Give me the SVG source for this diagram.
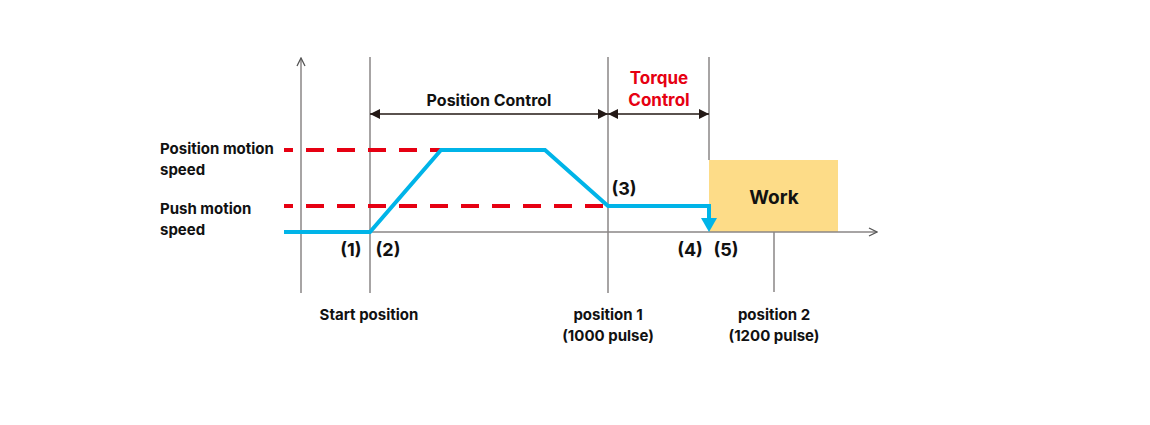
<svg xmlns="http://www.w3.org/2000/svg" width="1150" height="425" viewBox="0 0 1150 425">
<defs>
<style>
.ax{stroke:#8a8686;stroke-width:1.5;fill:none}
.red{stroke:#e60012;stroke-width:4;fill:none;stroke-dasharray:18 13;stroke-dashoffset:9}
.blue{stroke:#00b4e8;stroke-width:4;fill:none;stroke-linejoin:miter}
.dim{stroke:#231815;stroke-width:1.3;fill:none}
.t{font-family:Inter,"Noto Sans",sans-serif;font-weight:700;fill:#111;font-size:15px}
.n{font-size:18px}
.pc{font-size:16px}
.wk{font-size:19px}
.tr{fill:#e60012;font-size:17px}
</style>
<marker id="ah" viewBox="0 0 10 10" refX="10" refY="5" markerWidth="10" markerHeight="10" markerUnits="userSpaceOnUse" orient="auto-start-reverse">
<path d="M0,0 L10,5 L0,10 Z" fill="#231815"/>
</marker>
<marker id="open" viewBox="0 0 10 10" refX="9" refY="5" markerWidth="10" markerHeight="10" markerUnits="userSpaceOnUse" orient="auto">
<path d="M1,1 L9,5 L1,9" fill="none" stroke="#555" stroke-width="1.3"/>
</marker>
</defs>
<rect width="1150" height="425" fill="#fff"/>
<g id="work">
<rect x="709" y="160" width="129" height="72" fill="#fddc88"/>
<text class="t wk" x="774" y="204" text-anchor="middle">Work</text>
</g>
<g id="axes">
<line class="ax" x1="301" y1="293" x2="301" y2="58" marker-end="url(#open)"/>
<line class="ax" x1="301" y1="232" x2="877" y2="232" marker-end="url(#open)"/>
<line class="ax" x1="370" y1="57" x2="370" y2="293"/>
<line class="ax" x1="608" y1="57" x2="608" y2="293"/>
<line class="ax" x1="709" y1="57" x2="709" y2="160"/>
<line class="ax" x1="774" y1="232" x2="774" y2="292"/>
</g>
<g id="connectors">
<line class="red" x1="284" y1="150" x2="441" y2="150"/>
<line class="red" x1="284" y1="206" x2="608" y2="206"/>
<polyline class="blue" points="284,232 370,232 441,150 545,150 608,206 709,206 709,220"/>
<path d="M701,218 L717,218 L709,232 Z" fill="#00b4e8"/>
<line class="dim" x1="370" y1="114" x2="608" y2="114" marker-start="url(#ah)" marker-end="url(#ah)"/>
<line class="dim" x1="608" y1="114" x2="709" y2="114" marker-start="url(#ah)" marker-end="url(#ah)"/>
</g>
<g id="labels">
<text class="t pc" x="489" y="106" text-anchor="middle">Position Control</text>
<text class="t tr" x="659" y="84" text-anchor="middle">Torque</text>
<text class="t tr" x="659" y="106" text-anchor="middle">Control</text>
<text class="t" x="160" y="154">Position motion</text>
<text class="t" x="160" y="175">speed</text>
<text class="t" x="160" y="214">Push motion</text>
<text class="t" x="160" y="235">speed</text>
<text class="t n" x="351" y="256" text-anchor="middle">(1)</text>
<text class="t n" x="388" y="256" text-anchor="middle">(2)</text>
<text class="t n" x="624" y="195" text-anchor="middle">(3)</text>
<text class="t n" x="690" y="256" text-anchor="middle">(4)</text>
<text class="t n" x="726" y="256" text-anchor="middle">(5)</text>
<text class="t" x="369" y="320" text-anchor="middle">Start position</text>
<text class="t" x="608" y="320" text-anchor="middle">position 1</text>
<text class="t" x="608" y="341" text-anchor="middle">(1000 pulse)</text>
<text class="t" x="774" y="320" text-anchor="middle">position 2</text>
<text class="t" x="774" y="341" text-anchor="middle">(1200 pulse)</text>
</g>
</svg>
